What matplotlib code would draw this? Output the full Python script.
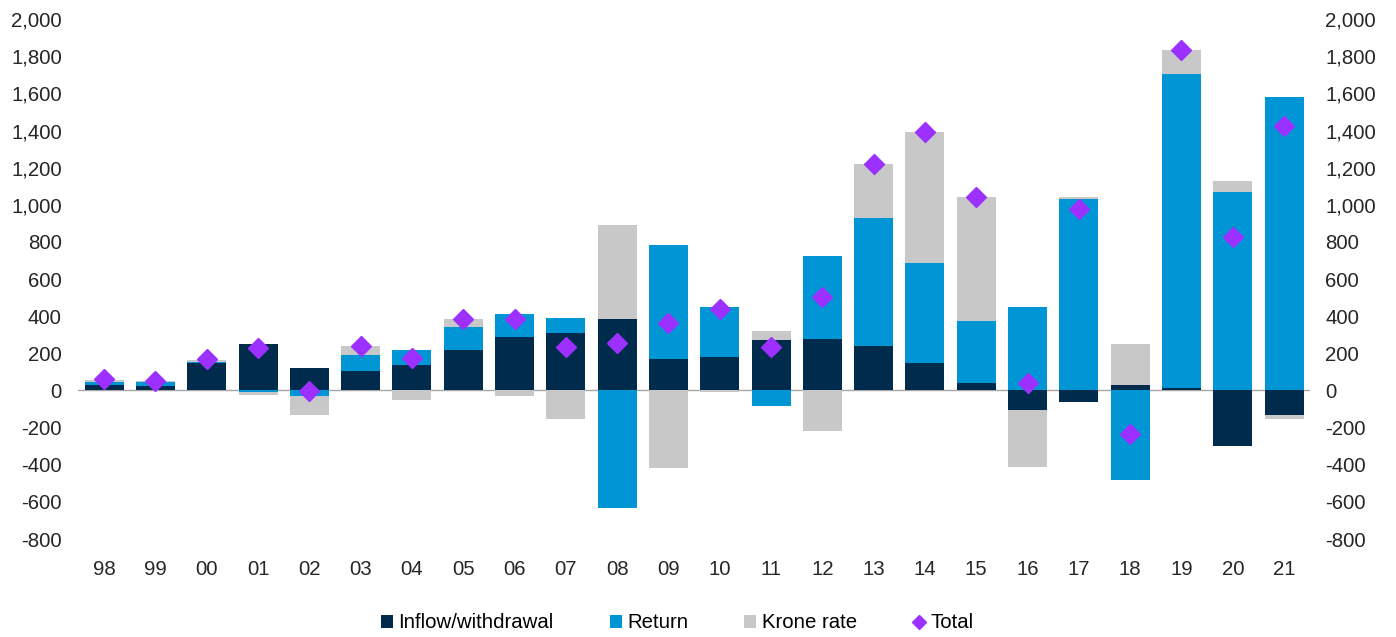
import matplotlib.pyplot as plt
import numpy as np

plt.rcParams['font.family'] = ['Liberation Sans', 'DejaVu Sans']

# DATA (billion NOK)
years = ["98", "99", "00", "01", "02", "03", "04", "05", "06", "07", "08", "09",
         "10", "11", "12", "13", "14", "15", "16", "17", "18", "19", "20", "21"]
inflow = [31, 25, 150, 251, 123, 105, 138, 218, 288, 311, 385, 169,
          179, 272, 276, 239, 148, 39, -105, -64, 27, 12, -300, -130]
ret = [14, 22, 5, -10, -29, 88, 82, 126, 124, 78, -634, 613,
       268, -86, 446, 691, 541, 336, 447, 1029, -484, 1694, 1068, 1578]
krone = [13, 4, 10, -15, -101, 44, -49, 39, -29, -154, 504, -418,
         -8, 47, -218, 290, 702, 668, -305, 14, 224, 126, 58, -24]
total = [60, 51, 167, 228, -4, 239, 173, 383, 385, 235, 257, 366,
         440, 235, 506, 1222, 1393, 1043, 39, 978, -233, 1834, 827, 1424]

C_INFLOW = "#002B4C"
C_RETURN = "#0096D6"
C_KRONE = "#C8C8C8"
C_TOTAL = "#9B30FF"
FS = 14.7

fig = plt.figure(figsize=(13.96, 6.37), dpi=100)
ax = fig.add_axes([0.0562, 0.1538, 0.8820, 0.8162])

x = np.arange(len(years))
W = 0.76

# diverging stack: positives up from 0, negatives down from 0
pos_base = np.zeros(len(years))
neg_base = np.zeros(len(years))
for vals, col, lab in ((inflow, C_INFLOW, "Inflow/withdrawal"),
                       (ret, C_RETURN, "Return"),
                       (krone, C_KRONE, "Krone rate")):
    v = np.array(vals, dtype=float)
    base = np.where(v >= 0, pos_base, neg_base)
    ax.bar(x, v, W, bottom=base, color=col, label=lab, zorder=2)
    pos_base = pos_base + np.where(v > 0, v, 0)
    neg_base = neg_base + np.where(v < 0, v, 0)

ax.plot(x, total, linestyle="none", marker="D", markersize=10, color=C_TOTAL,
        label="Total", zorder=3)

ax.axhline(0, color="#A6A6A6", linewidth=1, zorder=1)

ax.set_xlim(-0.5, len(years) - 0.5)
ax.set_ylim(-800, 2000)
yt = np.arange(-800, 2001, 200)
ax.set_yticks(yt)
ax.set_yticklabels([f"{v:,}" for v in yt])
ax.set_xticks(x)
ax.set_xticklabels(years)
ax.tick_params(axis="both", length=0, labelsize=FS, colors="#262626")
ax.tick_params(axis="x", pad=15)
ax.tick_params(axis="y", pad=12)
for s in ax.spines.values():
    s.set_visible(False)

ax2 = ax.twinx()
ax2.set_ylim(-800, 2000)
ax2.set_yticks(yt)
ax2.set_yticklabels([f"{v:,}" for v in yt])
ax2.tick_params(axis="y", length=0, labelsize=FS, colors="#262626", pad=11)
for s in ax2.spines.values():
    s.set_visible(False)

h, l = ax.get_legend_handles_labels()
order = [1, 2, 3, 0]
fig.legend([h[i] for i in order], [l[i] for i in order], loc="center",
           bbox_to_anchor=(0.485, 0.022), ncol=4, frameon=False,
           fontsize=FS, handlelength=0.6, handleheight=0.6,
           handletextpad=0.25, columnspacing=2.75, markerscale=0.75)

fig.savefig("out.png", dpi=100)
